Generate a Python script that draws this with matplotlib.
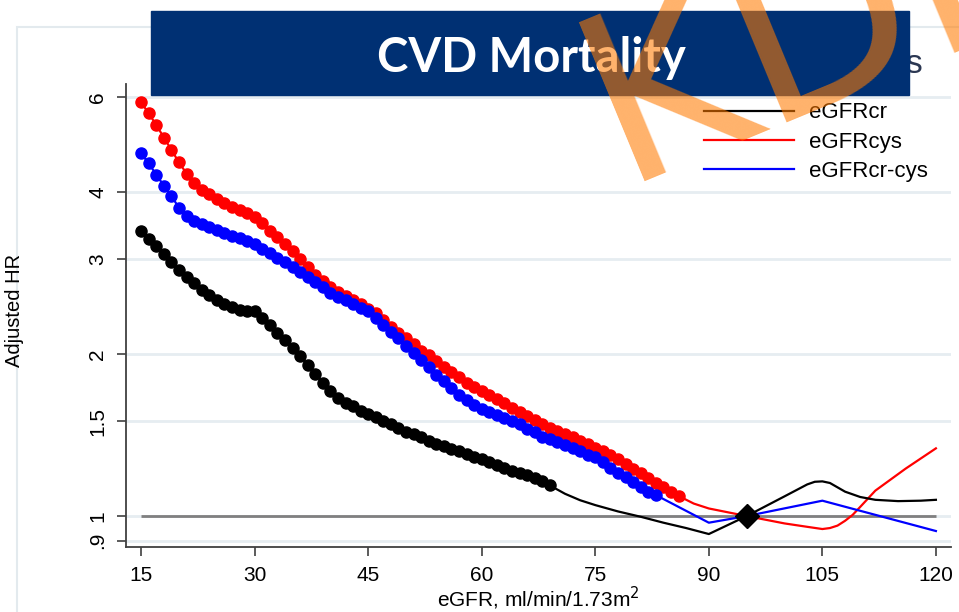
import matplotlib.pyplot as plt
from matplotlib.patches import Rectangle
from matplotlib.lines import Line2D

# eGFR (ml/min/1.73m2) with dots, one per unit
x_cr_dots = list(range(15, 70))
hr_cr_dots = [3.39, 3.27, 3.17, 3.07, 2.96, 2.86, 2.78, 2.71, 2.63, 2.57,
              2.52, 2.48, 2.45, 2.42, 2.40, 2.40, 2.33, 2.26, 2.19, 2.12,
              2.05, 1.985, 1.91, 1.84, 1.77, 1.71, 1.66, 1.62, 1.60, 1.57,
              1.55, 1.53, 1.50, 1.48, 1.46, 1.43, 1.42, 1.40, 1.38, 1.36,
              1.35, 1.335, 1.32, 1.305, 1.29, 1.275, 1.26, 1.245, 1.23, 1.215,
              1.20, 1.19, 1.175, 1.16, 1.14]
x_cys_dots = list(range(15, 87))
hr_cys_dots = [5.87, 5.60, 5.33, 5.05, 4.79, 4.54, 4.33, 4.15, 4.04, 3.96,
               3.89, 3.82, 3.75, 3.70, 3.65, 3.60, 3.50, 3.39, 3.30, 3.20,
               3.11, 3.00, 2.90, 2.81, 2.73, 2.67, 2.61, 2.56, 2.52, 2.48,
               2.43, 2.38, 2.31, 2.25, 2.19, 2.14, 2.09, 2.03, 1.99, 1.94,
               1.89, 1.85, 1.81, 1.77, 1.74, 1.71, 1.68, 1.65, 1.62, 1.59,
               1.56, 1.535, 1.51, 1.48, 1.46, 1.44, 1.42, 1.40, 1.38, 1.36,
               1.34, 1.32, 1.30, 1.275, 1.25, 1.225, 1.20, 1.175, 1.15, 1.13,
               1.11, 1.09]
x_crcys_dots = list(range(15, 84))
hr_crcys_dots = [4.72, 4.52, 4.31, 4.11, 3.93, 3.74, 3.61, 3.54, 3.49, 3.44,
                 3.40, 3.36, 3.32, 3.28, 3.25, 3.20, 3.14, 3.08, 3.02, 2.96,
                 2.90, 2.84, 2.78, 2.72, 2.67, 2.60, 2.55, 2.52, 2.48, 2.44,
                 2.40, 2.33, 2.26, 2.20, 2.14, 2.07, 2.01, 1.95, 1.89, 1.83,
                 1.78, 1.73, 1.68, 1.64, 1.61, 1.58, 1.56, 1.54, 1.52, 1.50,
                 1.48, 1.45, 1.43, 1.40, 1.39, 1.37, 1.355, 1.34, 1.32, 1.30,
                 1.285, 1.26, 1.23, 1.20, 1.18, 1.155, 1.13, 1.11, 1.094]

# tails without dots
x_cr_line = [69, 71, 73, 75, 78, 81, 84, 87, 90, 95, 100, 103, 104, 105, 106,
             108, 110, 112, 115, 118, 120]
hr_cr_line = [1.14, 1.10, 1.07, 1.048, 1.02, 0.997, 0.972, 0.95, 0.926, 1.0,
              1.088, 1.145, 1.158, 1.16, 1.152, 1.11, 1.085, 1.072, 1.066,
              1.068, 1.072]
x_cys_line = [86, 88, 90, 95, 100, 103, 105, 106, 107, 108, 109, 110, 112, 116, 120]
hr_cys_line = [1.09, 1.055, 1.033, 1.0, 0.969, 0.955, 0.946, 0.95, 0.96, 0.98,
               1.005, 1.04, 1.115, 1.225, 1.336]
x_crcys_line = [83, 90, 95, 105, 120]
hr_crcys_line = [1.094, 0.972, 1.0, 1.068, 0.938]

ref_x = 95
yticks = [0.9, 1, 1.5, 2, 3, 4, 6]
ytick_labels = ['.9', '1', '1.5', '2', '3', '4', '6']
xticks = [15, 30, 45, 60, 75, 90, 105, 120]

plt.rcParams['font.family'] = ['Liberation Sans', 'DejaVu Sans']
fig = plt.figure(figsize=(9.59, 6.12), dpi=100)
ax = fig.add_axes([0.1314, 0.1062, 0.8603, 0.7565])

grid_c = '#e6edf1'
for v in yticks:
    ax.axhline(v, color=grid_c, lw=2, zorder=0)
ax.hlines(1, 15, 120, color='#808080', lw=2, zorder=1)

ax.plot(x_cys_dots + x_cys_line[1:], hr_cys_dots + hr_cys_line[1:], color='red', lw=1.6, zorder=2)
ax.plot(x_cys_dots, hr_cys_dots, 'o', color='red', ms=8, zorder=3)
ax.plot(x_crcys_dots + x_crcys_line[1:], hr_crcys_dots + hr_crcys_line[1:], color='blue', lw=1.6, zorder=4)
ax.plot(x_crcys_dots, hr_crcys_dots, 'o', color='blue', ms=8, zorder=5)
ax.plot(x_cr_dots + x_cr_line[1:], hr_cr_dots + hr_cr_line[1:], color='black', lw=1.6, zorder=6)
ax.plot(x_cr_dots, hr_cr_dots, 'o', color='black', ms=8, zorder=7)
ax.plot([ref_x], [1], 'D', color='black', ms=12, zorder=8)

ax.set_yscale('log')
ax.set_xlim(13.0, 122.0)
ax.set_ylim(0.876, 6.35)
ax.set_yticks(yticks)
ax.set_yticklabels(ytick_labels, rotation=90, va='center')
ax.minorticks_off()
ax.set_xticks(xticks)
ax.tick_params(axis='both', length=6.5, width=1.2, color='#404040', labelsize=15, pad=7)
for s in ['top', 'right']:
    ax.spines[s].set_visible(False)
for s in ['left', 'bottom']:
    ax.spines[s].set_color('#404040')
    ax.spines[s].set_linewidth(1.3)
ax.set_xlabel('eGFR, ml/min/1.73m$^2$', fontsize=15, labelpad=0)
ax.set_ylabel('Adjusted HR', fontsize=14.5)
ax.yaxis.set_label_coords(-0.124, 0.51)

handles = [Line2D([], [], color='black', lw=1.6),
           Line2D([], [], color='red', lw=1.6),
           Line2D([], [], color='blue', lw=1.6)]
fig.legend(handles, ['eGFRcr', 'eGFRcys', 'eGFRcr-cys'], loc='upper left',
           bbox_to_anchor=(0.7226, 0.851), frameon=False, fontsize=16,
           handlelength=4.05, handletextpad=0.66, labelspacing=0.38, borderpad=0)

# outer light frame of the graph region (right edge lies outside)
fig.add_artist(Rectangle((17 / 959, -0.1), 1.0, 1.1 - 27 / 612, transform=fig.transFigure,
                         fill=False, ec='#e3eaee', lw=1.5, zorder=-1))

# title banner
fig.text(905 / 959, 1 - 73 / 612, 's', color='#2b3752', fontsize=24, ha='left', va='baseline')
fig.add_artist(Rectangle((151 / 959, 1 - 95 / 612), 758 / 959, 84 / 612,
                         transform=fig.transFigure, color='#003073', zorder=5))
fig.text(531 / 959, 1 - 58 / 612, 'CVD Mortality', color='white', fontsize=34,
         fontweight='bold', family='Lato', ha='center', va='center', zorder=6)

# watermark
fig.text(622 / 959, 1 - 181 / 612, 'KDIGO', family='DejaVu Sans', fontsize=170,
         color='#ff7a00', alpha=0.58, rotation=22.5, rotation_mode='anchor',
         ha='left', va='baseline', zorder=10)

fig.savefig('out.png', dpi=100)
